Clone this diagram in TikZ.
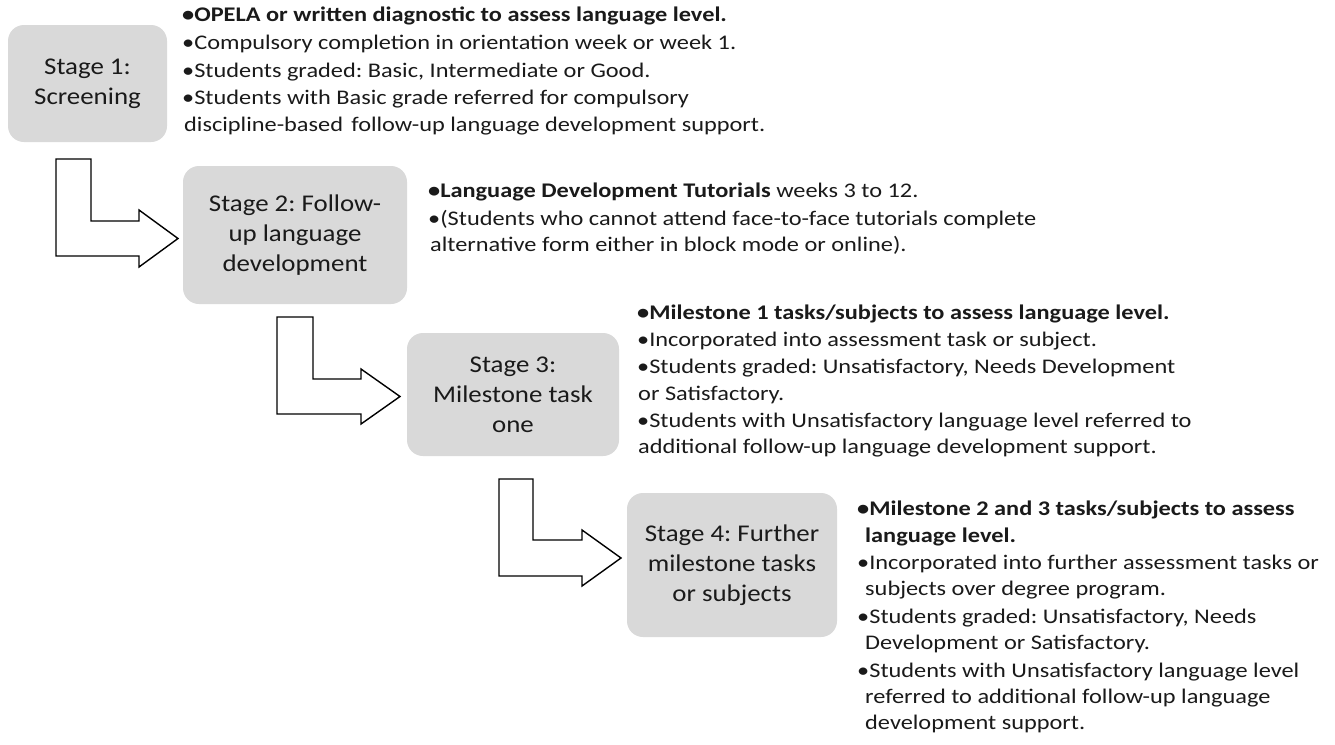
\documentclass[tikz,border=0pt]{standalone}
\usepackage{fontspec}
\setmainfont{Carlito}
\newfontfamily\bodyf[FakeStretch=1.17]{Carlito}
\newfontfamily\stagef[FakeStretch=1.12]{Carlito}
\definecolor{boxgray}{HTML}{D9D9D9}
\definecolor{ink}{HTML}{1A1A1A}
\newcommand{\bodyfont}{\bodyf\frenchspacing\fontsize{20.8}{26}\selectfont}
\newcommand{\stagefont}{\stagef\frenchspacing\fontsize{24}{30}\selectfont}
\begin{document}
\begin{tikzpicture}[x=1pt,y=-1pt,
  stagebox/.style={fill=boxgray,draw=none,rounded corners=16pt,align=center,
    font=\stagefont,text=ink,inner sep=0pt},
  line/.style={anchor=base west,inner sep=0pt,font=\bodyfont,text=ink},
  bline/.style={line,font=\bodyfont\bfseries},
  bent/.style={draw=black,fill=white,line width=1.4pt,line join=miter}]
\useasboundingbox (0,0) rectangle (1335,744);
\fill[white] (0,0) rectangle (1335,744);

% stage boxes
\node[stagebox,minimum width=159pt,minimum height=117pt] (s1) at (87.5,83.5) {Stage 1:\\Screening};
\node[stagebox,minimum width=224pt,minimum height=138pt] (s2) at (295,235) {Stage 2: Follow-\\up language\\development};
\node[stagebox,minimum width=212pt,minimum height=123pt] (s3) at (513,394.5) {Stage 3:\\Milestone task\\one};
\node[stagebox,minimum width=210pt,minimum height=144pt] (s4) at (732,565) {Stage 4: Further\\milestone tasks\\or subjects};

% bent arrows
\draw[bent] (56,159) -- (91,159) -- (91,221) -- (139,221) -- (139,210) -- (178,238.5)
  -- (139,267) -- (139,256) -- (56,256) -- cycle;
\draw[bent] (277,317) -- (313,317) -- (313,379) -- (361,379) -- (361,369) -- (400,396.5)
  -- (361,424) -- (361,414) -- (277,414) -- cycle;
\draw[bent] (499,479) -- (533,479) -- (533,540) -- (582,540) -- (582,530) -- (621,558)
  -- (582,586) -- (582,576) -- (499,576) -- cycle;

% stage 1 text
\node[bline] (t1a) at (182,21.5) {•OPELA or written diagnostic to assess language level.};
\node[line] (t1b) at (182,49) {•Compulsory completion in orientation week or week 1.};
\node[line] (t1c) at (182,77) {•Students graded: Basic, Intermediate or Good.};
\node[line] (t1d) at (182,104) {•Students with Basic grade referred for compulsory};
\node[line] (t1e) at (184,131) {discipline-based\hspace{0.4em}follow-up language development support.};

% stage 2 text
\node[line] (t2a) at (428,197) {\textbf{•Language Development Tutorials} weeks 3 to 12.};
\node[line] (t2b) at (428,225) {•(Students who cannot attend face-to-face tutorials complete};
\node[line] (t2c) at (430,251) {alternative form either in block mode or online).};

% stage 3 text
\node[bline] (t3a) at (637,319) {•Milestone 1 tasks/subjects to assess language level.};
\node[line] (t3b) at (637,346) {•Incorporated into assessment task or subject.};
\node[line] (t3c) at (637,373) {•Students graded: Unsatisfactory, Needs Development};
\node[line] (t3d) at (638,400) {or Satisfactory.};
\node[line] (t3e) at (637,427) {•Students with Unsatisfactory language level referred to};
\node[line] (t3f) at (638,453) {additional follow-up language development support.};

% stage 4 text
\node[bline] (t4a) at (857,515) {•Milestone 2 and 3 tasks/subjects to assess};
\node[bline] (t4b) at (865,542) {language level.};
\node[line] (t4c) at (857,569) {•Incorporated into further assessment tasks or};
\node[line] (t4d) at (865,595) {subjects over degree program.};
\node[line] (t4e) at (857,623) {•Students graded: Unsatisfactory, Needs};
\node[line] (t4f) at (865,649) {Development or Satisfactory.};
\node[line] (t4g) at (857,677) {•Students with Unsatisfactory language level};
\node[line] (t4h) at (865,703) {referred to additional follow-up language};
\node[line] (t4i) at (865,729) {development support.};
\end{tikzpicture}
\end{document}
